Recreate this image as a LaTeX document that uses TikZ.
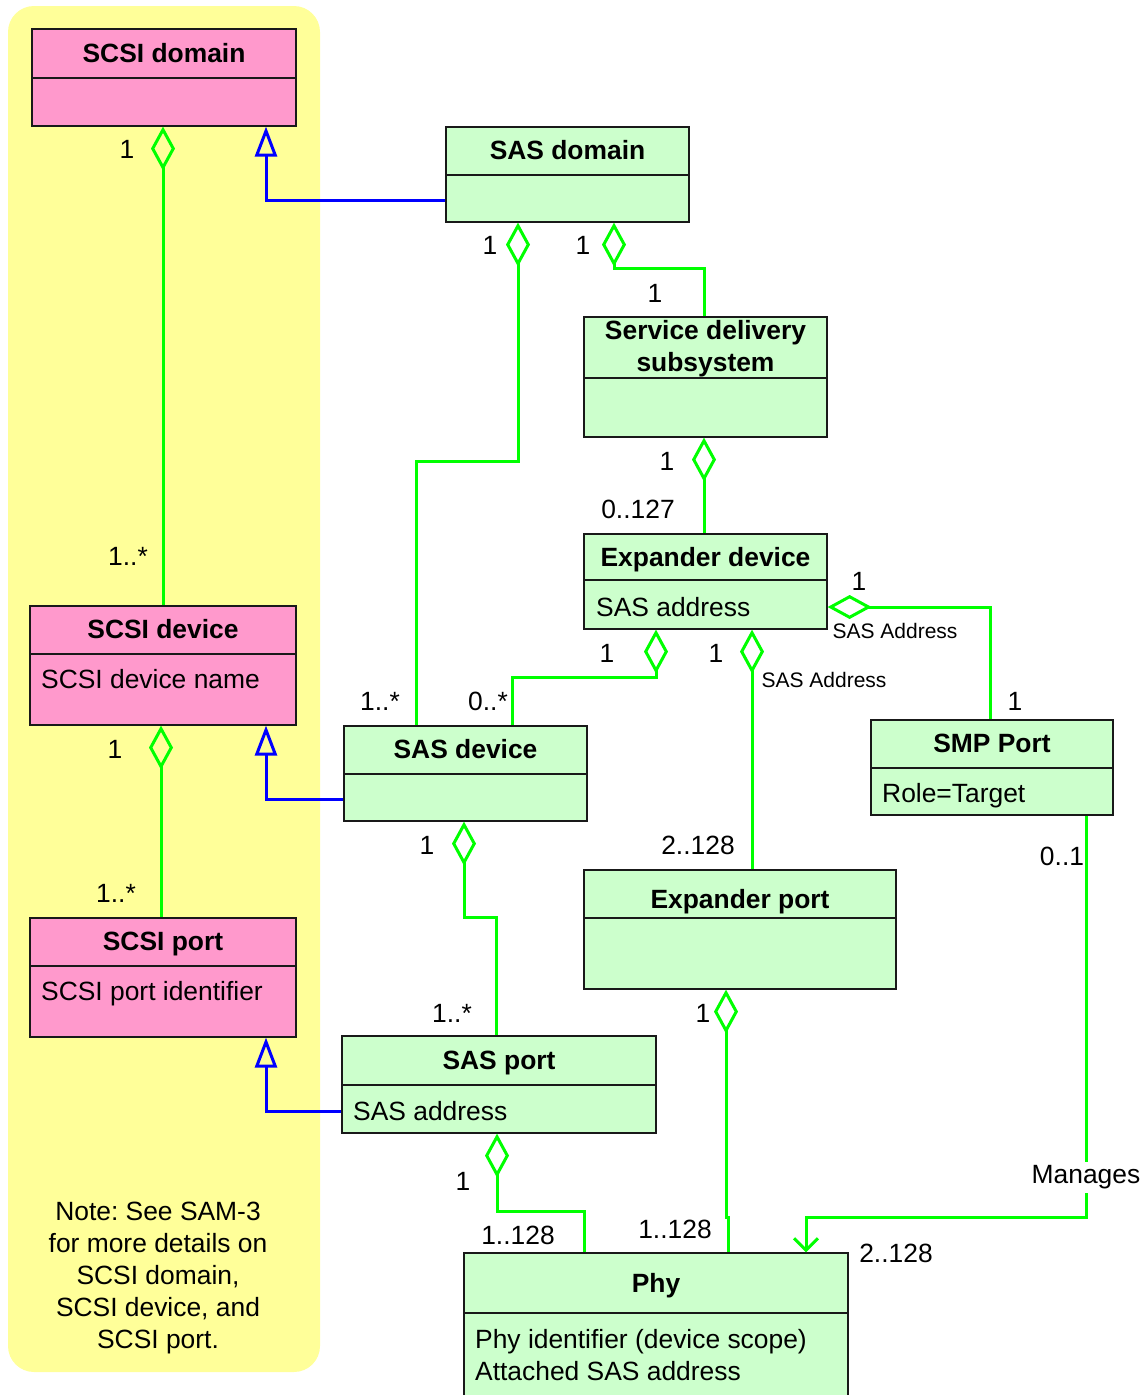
\documentclass[tikz,border=0pt]{standalone}
\usepackage{fontspec}
\setmainfont{Liberation Sans}
\frenchspacing
\usetikzlibrary{arrows.meta}
\definecolor{ScsiPink}{RGB}{255,153,204}
\definecolor{SasGreen}{RGB}{204,255,204}
\definecolor{NoteYellow}{RGB}{255,255,153}
\definecolor{LinkGreen}{RGB}{0,255,0}
\definecolor{LinkBlue}{RGB}{0,0,255}
\tikzset{
  classbox/.style={draw=black!90,line width=1.2pt,inner sep=0pt},
  scsibox/.style={classbox,fill=ScsiPink},
  sasbox/.style={classbox,fill=SasGreen},
  txt/.style={font=\fontsize{26.4}{32}\selectfont,inner sep=0pt},
  ttl/.style={txt,font=\fontsize{26.4}{32}\selectfont\bfseries,
    text height=19pt,text depth=0pt},
  attr/.style={txt,anchor=west,text height=19pt,text depth=0pt},
  mult/.style={txt,text height=19pt,text depth=0pt},
  role/.style={font=\fontsize{21}{25}\selectfont,inner sep=0pt,
    text height=15pt,text depth=0pt},
  divider/.style={black!90,line width=1.2pt},
  agg/.style={LinkGreen,line width=3pt,{Diamond[open,length=44pt,width=24pt]}-},
  gen/.style={LinkBlue,line width=3pt,-{Triangle[open,length=30pt,width=22pt]}},
  navig/.style={LinkGreen,line width=3pt,-{Straight Barb[length=12pt,width=24pt]}}
}

\begin{document}
\begin{tikzpicture}[x=1pt,y=-1pt]
  \useasboundingbox (0,0) rectangle (1148,1395);
  \fill[NoteYellow,rounded corners=26pt] (8,6) rectangle (320,1372);
  \node[txt,align=center] (note) at (158,1278.5)
    {Note: See SAM-3\\for more details on\\SCSI domain,\\SCSI device, and\\SCSI port.};

  % classes
  \node[scsibox,minimum width=264pt,minimum height=97pt] (scsidom) at (164,77.5) {};
  \draw[divider] (32,78) -- (296,78);
  \node[ttl] (scsidomT) at (164,53) {SCSI domain};

  \node[sasbox,minimum width=243pt,minimum height=95pt] (sasdom) at (567.5,174.5) {};
  \draw[divider] (446,175) -- (689,175);
  \node[ttl] (sasdomT) at (567.5,150) {SAS domain};

  \node[sasbox,minimum width=243pt,minimum height=120pt] (sds) at (705.5,377) {};
  \draw[divider] (584,378) -- (827,378);
  \node[txt,font=\fontsize{26.4}{32}\selectfont\bfseries,align=center] (sdsT) at (705.5,348.5)
    {Service delivery\\subsystem};

  \node[sasbox,minimum width=243pt,minimum height=95pt] (expdev) at (705.5,581.5) {};
  \draw[divider] (584,580) -- (827,580);
  \node[ttl] (expdevT) at (705.5,557) {Expander device};
  \node[attr] (expdevA) at (596,607) {SAS address};

  \node[scsibox,minimum width=266pt,minimum height=119pt] (scsidev) at (163,665.5) {};
  \draw[divider] (30,654) -- (296,654);
  \node[ttl] (scsidevT) at (163,629) {SCSI device};
  \node[attr] (scsidevA) at (41,679) {SCSI device name};

  \node[sasbox,minimum width=243pt,minimum height=95pt] (sasdev) at (465.5,773.5) {};
  \draw[divider] (344,774) -- (587,774);
  \node[ttl] (sasdevT) at (465.5,749) {SAS device};

  \node[sasbox,minimum width=242pt,minimum height=95pt] (smp) at (992,767.5) {};
  \draw[divider] (871,768) -- (1113,768);
  \node[ttl] (smpT) at (992,743) {SMP Port};
  \node[attr] (smpA) at (882,793) {Role=Target};

  \node[scsibox,minimum width=266pt,minimum height=119pt] (scsiport) at (163,977.5) {};
  \draw[divider] (30,966) -- (296,966);
  \node[ttl] (scsiportT) at (163,941) {SCSI port};
  \node[attr] (scsiportA) at (41,991) {SCSI port identifier};

  \node[sasbox,minimum width=312pt,minimum height=119pt] (expport) at (740,929.5) {};
  \draw[divider] (584,918) -- (896,918);
  \node[ttl] (expportT) at (740,899) {Expander port};

  \node[sasbox,minimum width=314pt,minimum height=97pt] (sasport) at (499,1084.5) {};
  \draw[divider] (342,1085) -- (656,1085);
  \node[ttl] (sasportT) at (499,1060) {SAS port};
  \node[attr] (sasportA) at (353,1111) {SAS address};

  \node[sasbox,minimum width=384pt,minimum height=147pt] (phy) at (656,1326.5) {};
  \draw[divider] (464,1313) -- (848,1313);
  \node[ttl] (phyT) at (656,1283) {Phy};
  \node[txt,align=left,anchor=west] (phyA) at (475,1355)
    {Phy identifier (device scope)\\Attached SAS address};

  % links
  \draw[agg] ([xshift=-1pt]scsidom.south) -- ([xshift=-1pt]scsidom.south |- scsidev.north);
  \draw[gen] ([yshift=-25.5pt]sasdom.west) -| ([xshift=102pt]scsidom.south);
  \draw[agg] ([xshift=-49.5pt]sasdom.south) -- ++(0,239) -| ([xshift=-49.5pt]sasdev.north);
  \draw[agg] ([xshift=46.5pt]sasdom.south) -- ++(0,46) -| ([xshift=-1.5pt]sds.north);
  \draw[agg] ([xshift=-1.5pt]sds.south) -- ([xshift=-1.5pt]expdev.north);
  \draw[agg] ([yshift=-25.5pt]expdev.east) -| ([xshift=-2pt]smp.north);
  \draw[agg] ([xshift=-49.5pt]expdev.south) -- ++(0,48) -| ([xshift=46.5pt]sasdev.north);
  \draw[agg] ([xshift=46.5pt]expdev.south) -- ([xshift=12pt]expport.north);
  \draw[agg] ([xshift=-2pt]scsidev.south) -- ([xshift=-2pt]scsiport.north);
  \draw[gen] ([yshift=-25.5pt]sasdev.west) -| ([xshift=103pt]scsidev.south);
  \draw[agg] ([xshift=-1.5pt]sasdev.south) -- ++(0,96) -| ([xshift=-3pt]sasport.north);
  \draw[gen] ([yshift=-26.5pt]sasport.west) -| ([xshift=103pt]scsiport.south);
  \draw[agg] ([xshift=-2pt]sasport.south) -- ++(0,78) -| ([xshift=-72pt]phy.north);
  \draw[agg] ([xshift=-14pt]expport.south) -- ++(0,228) -- ++(2,0) -| ([xshift=72pt]phy.north);
  \draw[navig] ([xshift=94pt]smp.south) -- ++(0,402) -| ([xshift=150pt]phy.north);
  \node[mult,fill=white,text depth=6pt,inner ysep=3pt] (manages) at (1086,1177) {Manages};

  % multiplicities
  \node[mult] (m1) at (127,149) {1};
  \node[mult] (m2) at (128,556) {1..*};
  \node[mult] (m3) at (490,245) {1};
  \node[mult] (m4) at (583,245) {1};
  \node[mult] (m5) at (655,293) {1};
  \node[mult] (m6) at (667,461) {1};
  \node[mult] (m7) at (638,509) {0..127};
  \node[mult] (m8) at (859,581) {1};
  \node[role] (r1) at (895,631) {SAS Address};
  \node[mult] (m9) at (1015,701) {1};
  \node[mult] (m10) at (607,653) {1};
  \node[mult] (m11) at (488,701) {0..*};
  \node[mult] (m12) at (380,701) {1..*};
  \node[mult] (m13) at (716,653) {1};
  \node[role] (r2) at (824,680) {SAS Address};
  \node[mult] (m14) at (698,845) {2..128};
  \node[mult] (m15) at (115,749) {1};
  \node[mult] (m16) at (116,893) {1..*};
  \node[mult] (m17) at (427,845) {1};
  \node[mult] (m18) at (452,1013) {1..*};
  \node[mult] (m19) at (463,1181) {1};
  \node[mult] (m20) at (518,1235) {1..128};
  \node[mult] (m21) at (703,1013) {1};
  \node[mult] (m22) at (675,1229) {1..128};
  \node[mult] (m23) at (1062,856) {0..1};
  \node[mult] (m24) at (896,1253) {2..128};
\end{tikzpicture}
\end{document}
